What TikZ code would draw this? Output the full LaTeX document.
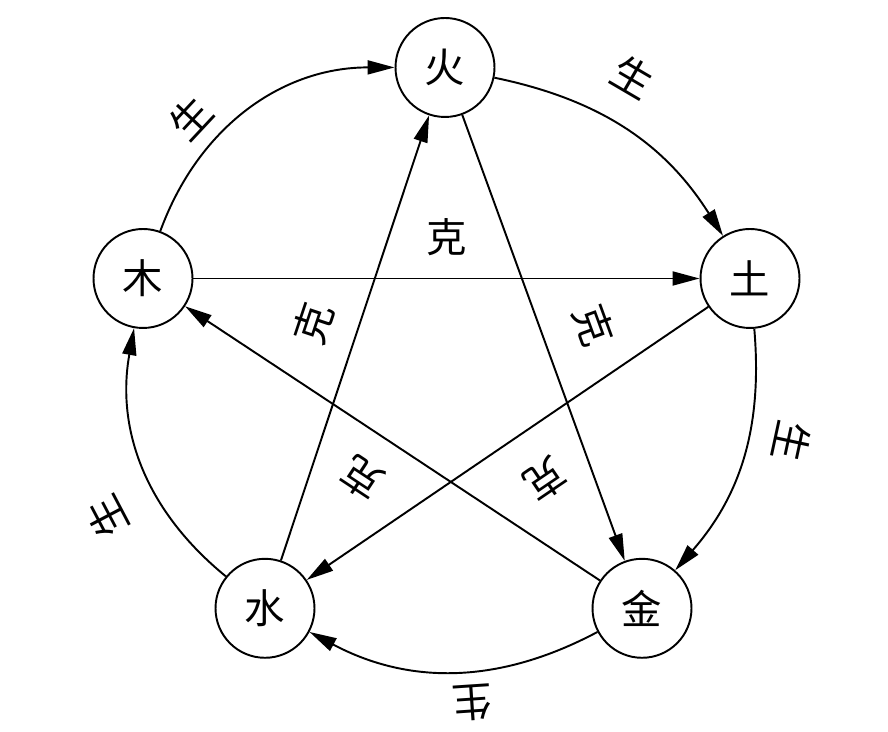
\documentclass[tikz,border=0pt]{standalone}
\usepackage{fontspec}
\newfontfamily\cjk{Noto Sans CJK SC}
\usetikzlibrary{arrows.meta}

\begin{document}
\begin{tikzpicture}[x=0.02cm, y=0.02cm, line width=1.1pt,
    >={Triangle[length=5.4mm, width=2.8mm]},
    element/.style={circle, draw, minimum size=1.98cm, inner sep=0pt,
      font=\cjk\fontsize{23}{23}\selectfont},
    relation/.style={sloped, allow upside down, inner sep=0pt,
      font=\cjk\fontsize{23}{23}\selectfont}]
  \useasboundingbox (0, 0) rectangle (888, 732);

  \node [element] (huo) at (445, 664.5) {火};
  \node [element] (tu) at (750, 453.5) {土};
  \node [element] (jin) at (642, 123.7) {金};
  \node [element] (shui) at (265, 123.7) {水};
  \node [element] (mu) at (143, 453.5) {木};

  \draw [->] (mu) to [bend left=35] node [relation, pos=.34, above=2.8mm] {生} (huo);
  \draw [->] (huo) to [bend left=23] node [relation, pos=.42, above=6mm] {生} (tu);
  \draw [->] (tu) to [bend left=23] node [relation, pos=.39, above=4.9mm] {生} (jin);
  \draw [->] (jin) to [bend left=28] node [relation, pos=.44, above=2.7mm] {生} (shui);
  \draw [->] (shui) to [bend left=30.5] node [relation, pos=.39, above=7mm] {生} (mu);

  \draw [->] (mu) to node [relation, above=4.3mm] {克} (tu);
  \draw [->] (tu) to node [relation, pos=.477, above=6.3mm] {克} (shui);
  \draw [->] (shui) to node [relation, above=4.9mm] {克} (huo);
  \draw [->] (huo) to node [relation, pos=.512, above=6.4mm] {克} (jin);
  \draw [->] (jin) to node [relation, pos=.512, above=5.3mm] {克} (mu);
\end{tikzpicture}
\end{document}
